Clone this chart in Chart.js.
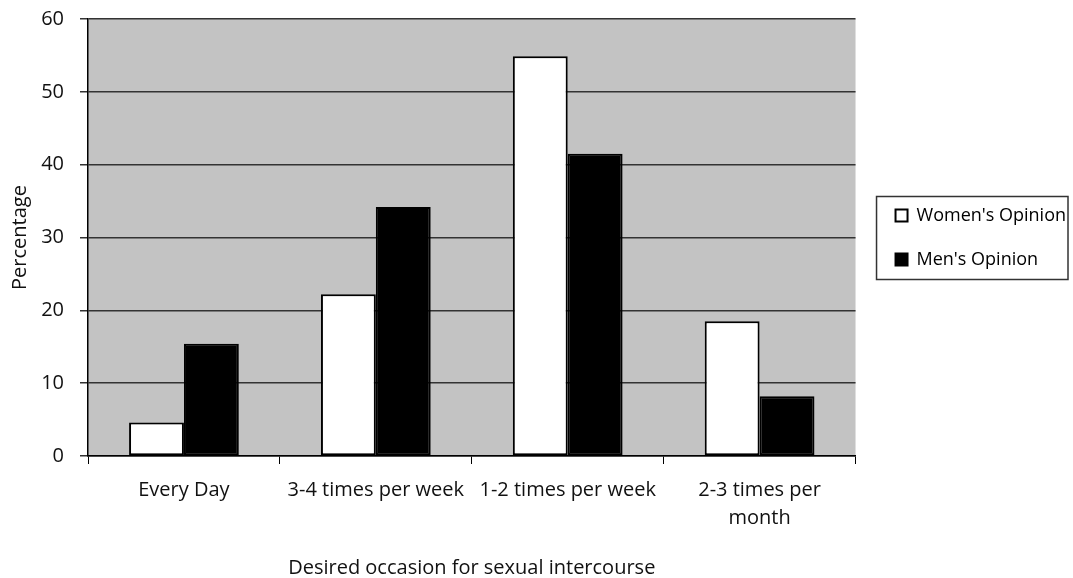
<!DOCTYPE html>
<html>
<head>
<meta charset="utf-8">
<script src="https://cdn.jsdelivr.net/npm/chart.js@4.4.0/dist/chart.umd.min.js"></script>
<style>
  body { margin: 0; background: #fff; }
  #wrap { width: 1073px; height: 578px; }
</style>
</head>
<body>
<div id="wrap"><canvas id="freqChart" width="1073" height="578"></canvas></div>
<script>
var categories = ["Every Day", "3-4 times per week", "1-2 times per week", ["2-3 times per", "month"]];
var womenValues = [4.6, 22.2, 54.9, 18.5];
var menValues = [15.4, 34.2, 41.5, 8.2];
var yTicks = [0, 10, 20, 30, 40, 50, 60];

var FONT = "'Open Sans', 'Liberation Sans', sans-serif";

// grey plot background + box round the legend
var plotBg = {
  id: "plotBg",
  beforeDraw: function (chart) {
    var a = chart.chartArea;
    var ctx = chart.ctx;
    ctx.save();
    ctx.fillStyle = "#c3c3c3";
    ctx.fillRect(a.left, a.top, a.right - a.left, a.bottom - a.top);
    ctx.restore();
  },
  afterLayout: function (chart) {
    // push the legend a bit right, away from the plot
    chart.legend.left += 14;
    chart.legend.right += 14;
  },
  afterDraw: function (chart) {
    var hb = chart.legend.legendHitBoxes;
    if (!hb || hb.length < 2) return;
    var ctx = chart.ctx;
    var top = hb[0].top + hb[0].height / 2 - 19;
    var bottom = hb[1].top + hb[1].height / 2 + 20;
    var left = hb[0].left - 19;
    ctx.save();
    ctx.strokeStyle = "#333";
    ctx.lineWidth = 1.5;
    ctx.strokeRect(left, top, 1068 - left, bottom - top);
    ctx.restore();
  },
};

var ctx = document.getElementById("freqChart").getContext("2d");
var myChart = new Chart(ctx, {
  type: "bar",
  data: {
    labels: categories,
    datasets: [
      {
        label: "Women's Opinion",
        data: womenValues,
        backgroundColor: "#ffffff",
        borderColor: "#000000",
        borderWidth: 2,
        borderSkipped: false,
      },
      {
        label: "Men's Opinion",
        data: menValues,
        backgroundColor: "#000000",
        borderColor: "#000000",
        borderWidth: 2,
        borderSkipped: false,
      },
    ],
  },
  options: {
    responsive: false,
    animation: false,
    devicePixelRatio: 1,
    layout: { padding: { top: 19, right: 11, bottom: 0, left: 0 } },
    datasets: { bar: { categoryPercentage: 0.572, barPercentage: 1 } },
    plugins: {
      tooltip: { enabled: false },
      legend: {
        position: "right",
        fullSize: false,
        labels: {
          color: "#000",
          font: { family: FONT, size: 18 },
          boxWidth: 12,
          boxHeight: 12,
          padding: 26,
        },
      },
    },
    scales: {
      x: {
        grid: {
          offset: true,
          drawOnChartArea: false,
          drawTicks: true,
          tickLength: 8,
          color: "#000",
          lineWidth: 1,
        },
        border: { color: "#000", width: 1.5 },
        ticks: {
          color: "#111",
          padding: 12,
          maxRotation: 0,
          autoSkip: false,
          font: { family: FONT, size: 20, lineHeight: 1.4 },
        },
        title: {
          display: true,
          text: "Desired occasion for sexual intercourse",
          color: "#111",
          font: { family: FONT, size: 20, lineHeight: 1 },
          padding: { top: 0, bottom: 0 },
        },
        afterFit: function (scale) {
          scale.height = 122;
        },
      },
      y: {
        min: 0,
        max: 60,
        afterBuildTicks: function (scale) {
          scale.ticks = yTicks.map(function (v) { return { value: v }; });
        },
        grid: {
          color: "#333",
          lineWidth: 1.5,
          drawTicks: true,
          tickLength: 8,
        },
        border: { color: "#000", width: 1.5 },
        ticks: {
          color: "#111",
          padding: 16,
          font: { family: FONT, size: 20 },
        },
        title: {
          display: true,
          text: "Percentage",
          color: "#111",
          font: { family: FONT, size: 20, lineHeight: 1.2 },
          padding: { top: 8, bottom: 0 },
        },
        afterFit: function (scale) {
          scale.width = 88;
          scale.paddingTop = 0;
          scale.paddingBottom = 0;
        },
      },
    },
  },
  plugins: [plotBg],
});
</script>
</body>
</html>
